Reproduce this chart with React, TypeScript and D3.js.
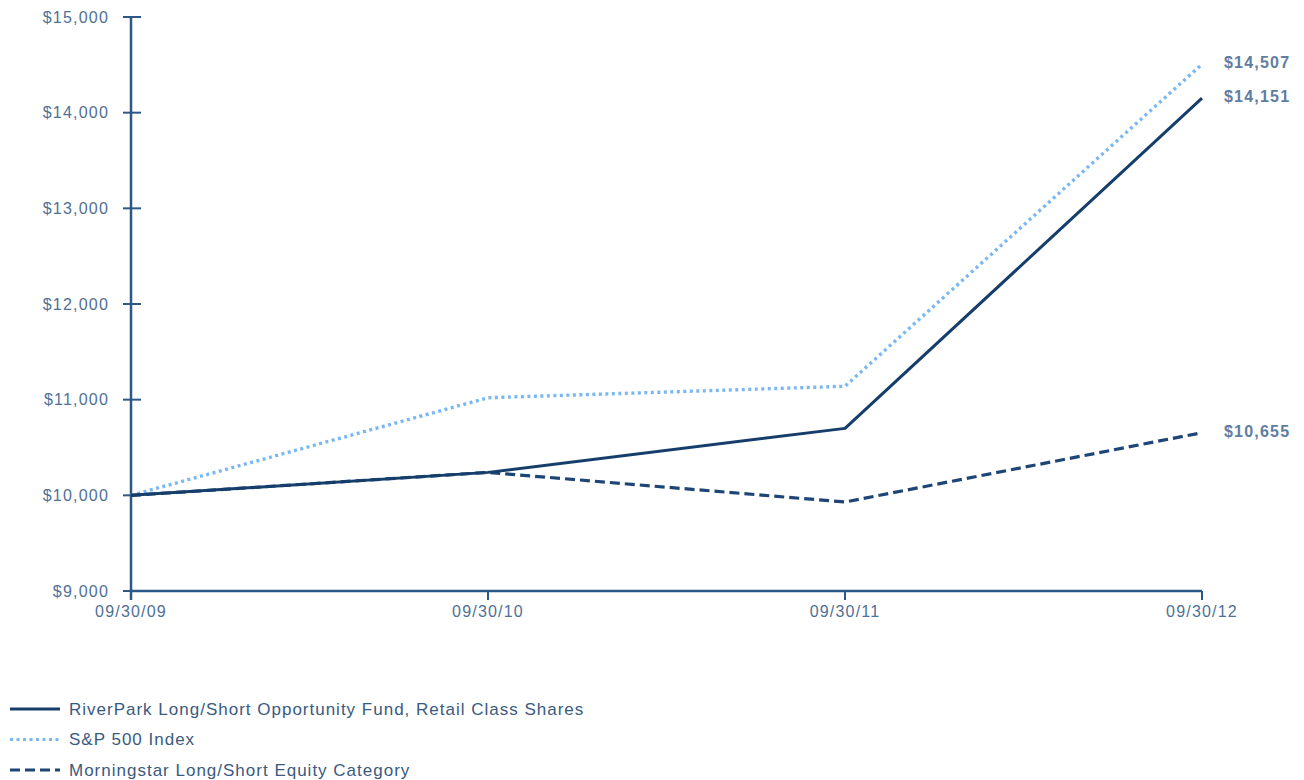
import React from 'react'
import * as d3 from 'd3'

const dates = ['09/30/09', '09/30/10', '09/30/11', '09/30/12']
const fund = [10000, 10240, 10700, 14151]
const sp500 = [10000, 11020, 11140, 14507]
const morningstar = [10000, 10240, 9930, 10655]
const yTicks = [9000, 10000, 11000, 12000, 13000, 14000, 15000]
const endLabels = ['$14,151', '$14,507', '$10,655']
const seriesNames = [
  'RiverPark Long/Short Opportunity Fund, Retail Class Shares',
  'S&P 500 Index',
  'Morningstar Long/Short Equity Category',
]

const axisColor = '#2c5887'
const textColor = '#4f7097'
const font = 'Arial, "Liberation Sans", sans-serif'

export default function App() {
  const width = 1304
  const height = 780

  const x = d3.scalePoint<string>().domain(dates).range([131, 1202])
  const y = d3.scaleLinear().domain([9000, 15000]).range([591, 17])
  const fmt = d3.format('$,')

  const line = d3.line<number>()
    .x((d, i) => x(dates[i]) as number)
    .y(d => y(d))

  // small nudges on the end labels
  const series = [
    { values: fund, color: '#163e6b', width: 3, dash: null, label: endLabels[0], dy: -2 },
    { values: sp500, color: '#7ab8f4', width: 3.4, dash: '3,3.5', label: endLabels[1], dy: -2 },
    { values: morningstar, color: '#1d4576', width: 3.2, dash: '10,5', label: endLabels[2], dy: -1 },
  ]

  const legend = [
    { name: seriesNames[0], color: '#163e6b', dash: null, width: 3 },
    { name: seriesNames[1], color: '#7ab8f4', dash: '3,3.5', width: 3 },
    { name: seriesNames[2], color: '#1d4576', dash: '10,5', width: 3.2 },
  ]

  return (
    <svg width={width} height={height} style={{ position: 'absolute', left: 0, top: 0 }} fontFamily={font}>
      {/* y axis */}
      <line x1={131} x2={131} y1={17} y2={600} stroke={axisColor} strokeWidth={2.5} />
      {yTicks.map(t => (
        <g key={t}>
          <line x1={123} x2={141} y1={y(t)} y2={y(t)} stroke={axisColor} strokeWidth={2} />
          <text x={109} y={y(t)} dy="0.35em" textAnchor="end" fontSize={16} letterSpacing={1.2} fill={textColor}>
            {fmt(t)}
          </text>
        </g>
      ))}
      {/* x axis */}
      <line x1={131} x2={1202} y1={591} y2={591} stroke={axisColor} strokeWidth={2.5} />
      {dates.map(d => (
        <g key={d}>
          <line x1={x(d)} x2={x(d)} y1={591} y2={600} stroke={axisColor} strokeWidth={2} />
          <text x={x(d)} y={617} textAnchor="middle" fontSize={16} letterSpacing={1.2} fill={textColor}>
            {d}
          </text>
        </g>
      ))}
      {/* lines */}
      {[series[1], series[2], series[0]].map((s, i) => (
        <path key={i} d={line(s.values) || ''} fill="none" stroke={s.color} strokeWidth={s.width}
          strokeDasharray={s.dash || undefined} strokeLinejoin="round" />
      ))}
      {series.map((s, i) => (
        <text key={i} x={1224} y={y(s.values[3]) + s.dy} dy="0.35em" fontSize={16} letterSpacing={1.2}
          fill="#5f7d9f" fontWeight="bold">
          {s.label}
        </text>
      ))}
      {/* legend */}
      {legend.map((l, i) => (
        <g key={i} transform={`translate(0, ${709 + i * 30.5})`}>
          <line x1={10} x2={60} y1={0} y2={0} stroke={l.color} strokeWidth={l.width}
            strokeDasharray={l.dash || undefined} />
          <text x={69} y={0} dy="0.35em" fontSize={17} letterSpacing={1.0} fill="#3a5a80">
            {l.name}
          </text>
        </g>
      ))}
    </svg>
  )
}
